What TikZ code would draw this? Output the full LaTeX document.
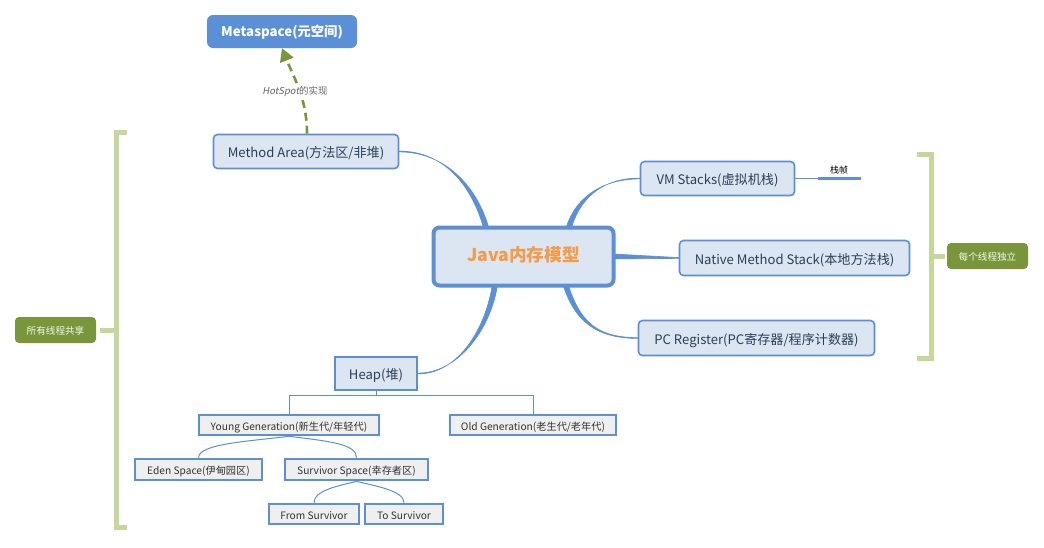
\documentclass[tikz,border=0pt]{standalone}
\usepackage{fontspec}
\setmainfont{Noto Sans CJK SC}
\newfontfamily\slantcjk[FakeSlant=0.2]{Noto Sans CJK SC}
\usetikzlibrary{arrows.meta,calc}
\definecolor{nodeblue}{HTML}{5B8FD6}
\definecolor{fillblue}{HTML}{DCE6F2}
\definecolor{navy}{HTML}{2D3E5A}
\definecolor{bracketg}{HTML}{C5D89B}
\definecolor{olive}{HTML}{7A963A}
\definecolor{arrowg}{HTML}{76973A}
\definecolor{orangeT}{HTML}{F59A45}
\definecolor{treefill}{HTML}{EFEFEF}
\definecolor{treetext}{HTML}{333333}
\begin{document}
\begin{tikzpicture}[x=1pt,y=-1pt,
  mainbox/.style={draw=nodeblue, line width=1.6pt, fill=fillblue, rounded corners=4pt,
    text=navy, font=\fontsize{13.1}{15}\selectfont, inner sep=0pt,
    text height=1.3em, text depth=0.02em},
  treebox/.style={draw=nodeblue, line width=2.6pt, fill=treefill, text=treetext,
    font=\fontsize{10.2}{12}\selectfont, inner sep=0pt, text height=1.05em, text depth=0.05em},
  groupbox/.style={fill=olive, rounded corners=4pt, text=white!92!olive,
    font=\fontsize{9.6}{11}\selectfont, inner sep=0pt, minimum width=81pt, minimum height=26pt,
    text height=0.95em, text depth=0.03em},
  bracket/.style={draw=bracketg, line width=5pt},
  conn/.style={fill=nodeblue, draw=nodeblue, line width=0.6pt},
  treeline/.style={draw=nodeblue, line width=1pt}
]
\useasboundingbox (0,0) rectangle (1044,547);
\fill[white] (0,0) rectangle (1044,547);

% nodes
\node[fill=nodeblue, rounded corners=6pt, text=white, font=\fontsize{13.3}{15}\bfseries\selectfont,
  minimum width=150pt, minimum height=33pt, inner sep=0pt, text height=1.05em, text depth=0.03em]
  (meta) at (282,31.5) {Metaspace(元空间)};
\node[mainbox, minimum width=185pt, minimum height=34pt] (ma) at (306,151.5) {Method Area(方法区/非堆)};
\node[mainbox, line width=4pt, rounded corners=6pt, minimum width=180pt, minimum height=58pt,
  text=orangeT, font=\fontsize{17.6}{20}\bfseries\selectfont, text height=1.06em, text depth=0.02em]
  (center) at (523.5,256.5) {Java内存模型};
\node[mainbox, minimum width=154pt, minimum height=34pt] (vm) at (717.5,178.5) {VM Stacks(虚拟机栈)};
\node[mainbox, minimum width=230pt, minimum height=35pt] (nms) at (794.5,258) {Native Method Stack(本地方法栈)};
\node[mainbox, minimum width=236pt, minimum height=35pt] (pc) at (756.5,338) {PC Register(PC寄存器/程序计数器)};
\node[mainbox, rounded corners=0pt, line width=2.6pt, minimum width=82pt, minimum height=33pt] (heap) at (376,373.5) {Heap(堆)};
\node[treebox, minimum width=180pt, minimum height=20pt] (young) at (289,425) {Young Generation(新生代/年轻代)};
\node[treebox, minimum width=166pt, minimum height=20pt] (old) at (533,425) {Old Generation(老生代/老年代)};
\node[treebox, minimum width=127pt, minimum height=21pt] (eden) at (198.5,469.5) {Eden Space(伊甸园区)};
\node[treebox, minimum width=143pt, minimum height=21pt] (surv) at (356.5,469.5) {Survivor Space(幸存者区)};
\node[treebox, minimum width=90pt, minimum height=20pt] (from) at (314,514) {From Survivor};
\node[treebox, minimum width=78pt, minimum height=20pt] (to) at (404,514) {To Survivor};
\node[groupbox] (shared) at (55.5,330) {所有线程共享};
\node[groupbox] (indep) at (987.5,256) {每个线程独立};

% connectors from center (tapered)
\coordinate (c1) at ($(center.north west)+(54,0)$);
\coordinate (c2) at ($(center.north west)+(138,0)$);
\coordinate (c3) at ($(center.south west)+(135,0)$);
\coordinate (c4) at ($(center.south west)+(63,0)$);
\path[conn] ($(ma.east)+(0,-0.4)$) .. controls +(45,0) and +(-12,-40) .. ($(c1)+(-2.6,0)$)
  -- ($(c1)+(2.6,0)$) .. controls +(-12,-40) and +(45,0) .. ($(ma.east)+(0,0.4)$) -- cycle;
\path[conn] ($(vm.west)+(0,-0.4)$) .. controls +(-35,0) and +(10,-30) .. ($(c2)+(2.6,0)$)
  -- ($(c2)+(-2.6,0)$) .. controls +(10,-30) and +(-35,0) .. ($(vm.west)+(0,0.4)$) -- cycle;
\path[conn] ($(nms.west)+(0,-0.4)$) -- ($(center.east)+(0,-2.4)$) -- ($(center.east)+(0,2.4)$)
  -- ($(nms.west)+(0,0.4)$) -- cycle;
\path[conn] ($(pc.west)+(0,-0.4)$) .. controls +(-40,0) and +(12,35) .. ($(c3)+(2.6,0)$)
  -- ($(c3)+(-2.6,0)$) .. controls +(12,35) and +(-40,0) .. ($(pc.west)+(0,0.4)$) -- cycle;
\path[conn] ($(heap.east)+(0,-0.4)$) .. controls +(38,0) and +(-8,45) .. ($(c4)+(2.6,0)$)
  -- ($(c4)+(-2.6,0)$) .. controls +(-8,45) and +(38,0) .. ($(heap.east)+(0,0.4)$) -- cycle;

% stack frame
\coordinate (sf1) at ($(vm.east)+(23,0)$);
\coordinate (sf2) at ($(vm.east)+(66,0)$);
\draw[draw=nodeblue, line width=0.8pt] (vm.east) -- (sf1);
\draw[draw=nodeblue, line width=2.6pt] (sf1) -- (sf2);
\node[font=\fontsize{9}{10}\selectfont, text=black, inner sep=0pt] (sflabel) at (839,170) {栈帧};

% metaspace arrow
\coordinate (maTop) at ($(ma.north)+(1,0)$);
\draw[draw=arrowg, line width=2.6pt, dash pattern=on 8pt off 5pt,
  -{Triangle[length=13pt,width=14pt]}] (maTop) .. controls +(0,-35) and +(12,30) .. (meta.south);
\node[fill=white, inner sep=1pt, text=black!60, font=\fontsize{9.5}{11}\selectfont] (hs) at (295,92)
  {{\slantcjk HotSpot}的实现};

% heap tree
\coordinate (hb) at ($(heap.south)+(0,4)$);
\draw[treeline] (heap.south) -- (hb);
\draw[treeline] (hb) -| (young.north);
\draw[treeline] (hb) -| (old.north);
\draw[treeline] (young.south) .. controls +(-40,5) and +(0,-14) .. (eden.north);
\draw[treeline] (young.south) .. controls +(40,5) and +(0,-14) .. (surv.north);
\draw[treeline] (surv.south) .. controls +(-20,5) and +(0,-12) .. (from.north);
\draw[treeline] (surv.south) .. controls +(20,5) and +(0,-12) .. (to.north);

% brackets
\draw[bracket] (127,132) -- (116,132) -- (116,527) -- (127,527);
\coordinate (lb) at (116,330);
\draw[bracket] (shared.east) ++(4,0) -- (lb);
\draw[bracket] (917,154) -- (931,154) -- (931,358) -- (917,358);
\coordinate (rb) at (931,256);
\draw[bracket] (rb) -- ($(indep.west)+(-2,0)$);
\end{tikzpicture}
\end{document}
